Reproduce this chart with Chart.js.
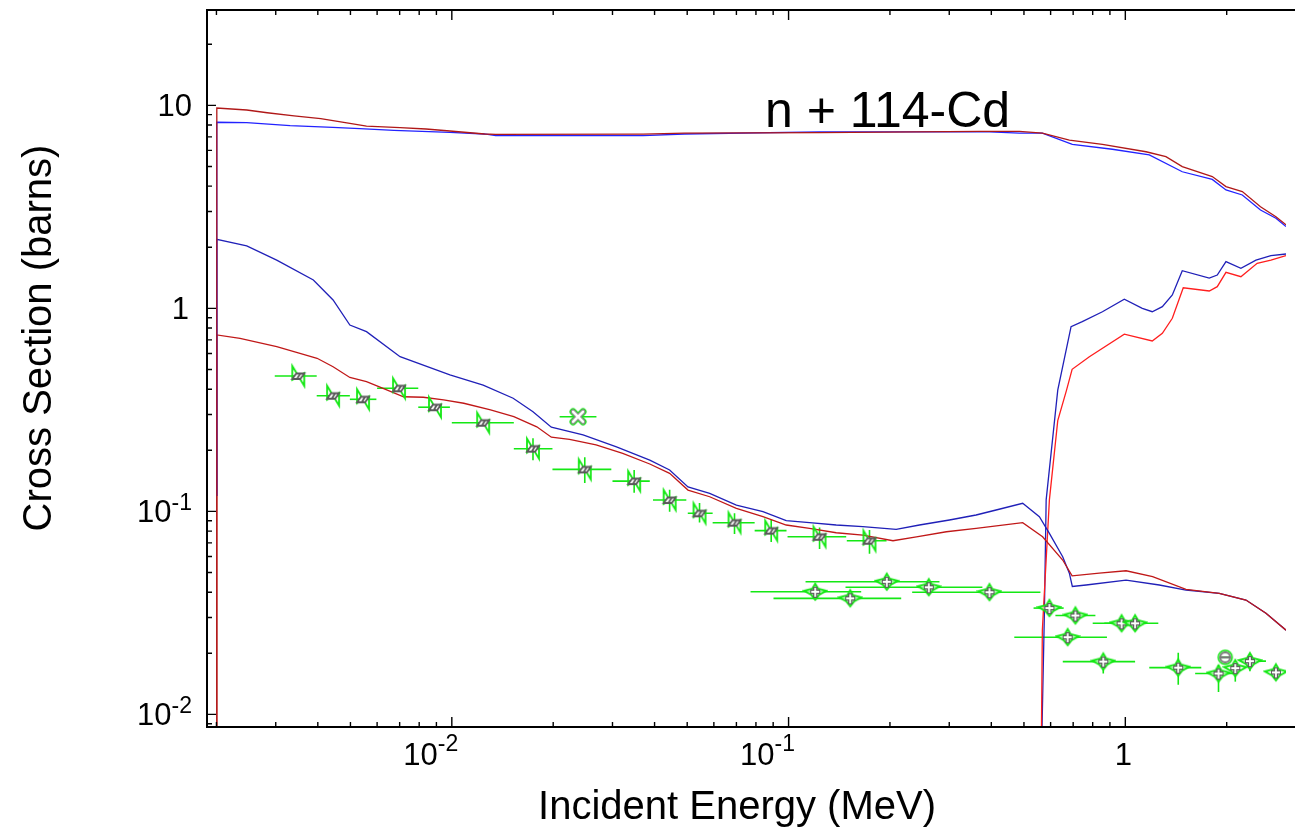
<!DOCTYPE html>
<html><head><meta charset="utf-8">
<script src="https://cdn.jsdelivr.net/npm/chart.js@4/dist/chart.umd.min.js"></script>
<style>html,body{margin:0;padding:0;background:#fff;overflow:hidden}</style>
</head><body>
<canvas id="c" width="1295" height="829"></canvas>
<script>
// ---------- evaluated curves [E (MeV), sigma (b)] ----------
const totalRed = [[0.002,0.005],[0.002005,9.7],[0.00246,9.49],[0.00283,9.2],[0.0034,8.87],[0.00408,8.6],[0.00498,8.16],[0.00558,7.91],[0.00702,7.77],[0.00838,7.65],[0.00987,7.48],[0.0125,7.23],[0.0135,7.2],[0.037,7.22],[0.049,7.3],[0.1236,7.35],[0.369,7.45],[0.485,7.45],[0.567,7.3],[0.682,6.75],[0.855,6.43],[1.152,5.91],[1.32,5.59],[1.476,4.99],[1.812,4.46],[1.99,3.98],[2.225,3.76],[2.52,3.17],[2.8,2.83],[3.0,2.58]];
const totalBlue = [[0.002,0.12],[0.002005,8.26],[0.00246,8.22],[0.00331,7.94],[0.00443,7.8],[0.00533,7.68],[0.00673,7.54],[0.00987,7.37],[0.0125,7.23],[0.0135,7.1],[0.037,7.1],[0.049,7.23],[0.1236,7.4],[0.395,7.4],[0.485,7.3],[0.567,7.3],[0.696,6.43],[0.915,6.08],[1.178,5.7],[1.476,4.71],[1.812,4.32],[1.99,3.83],[2.225,3.62],[2.52,3.05],[2.8,2.78],[3.0,2.53]];
const captureRed = [[0.002,0.005],[0.002005,0.74],[0.00235,0.712],[0.00302,0.648],[0.00354,0.601],[0.00398,0.568],[0.00444,0.516],[0.00498,0.457],[0.00558,0.436],[0.00625,0.404],[0.00719,0.367],[0.00823,0.365],[0.00945,0.354],[0.01085,0.341],[0.01303,0.316],[0.01528,0.293],[0.01788,0.261],[0.01975,0.232],[0.02236,0.2266],[0.02681,0.2124],[0.03217,0.1933],[0.03871,0.1712],[0.04434,0.154],[0.05027,0.1274],[0.05831,0.1181],[0.06998,0.1036],[0.08393,0.0942],[0.0984,0.0857],[0.1154,0.0825],[0.1385,0.0785],[0.1661,0.0765],[0.2042,0.0717],[0.2397,0.075],[0.2942,0.0794],[0.3605,0.0825],[0.4957,0.088],[0.568,0.075],[0.6516,0.0576],[0.695,0.0481],[0.837,0.0496],[1.005,0.051],[1.205,0.0477],[1.514,0.0413],[1.901,0.0395],[2.281,0.0366],[2.616,0.0315],[3.0,0.026]];
const captureBlue = [[0.002,0.12],[0.002005,2.19],[0.00246,2.03],[0.00302,1.73],[0.00388,1.38],[0.00444,1.1],[0.00498,0.828],[0.00558,0.768],[0.00702,0.578],[0.00987,0.47],[0.01239,0.419],[0.01521,0.361],[0.01742,0.31],[0.01975,0.26],[0.02453,0.238],[0.03083,0.208],[0.03871,0.179],[0.04434,0.16],[0.05027,0.132],[0.05831,0.1228],[0.06998,0.1075],[0.08393,0.0997],[0.0984,0.09],[0.1154,0.088],[0.1385,0.0857],[0.1661,0.0841],[0.2087,0.0816],[0.2447,0.0857],[0.3004,0.0907],[0.3605,0.096],[0.4133,0.1016],[0.4957,0.1096],[0.5556,0.0942],[0.595,0.078],[0.6516,0.0598],[0.682,0.0496],[0.696,0.0427],[0.7646,0.0434],[1.005,0.0459],[1.262,0.0434],[1.514,0.041],[1.901,0.0395],[2.281,0.0366],[2.616,0.0315],[3.0,0.026]];
const inelasticBlue = [[0.562,0.005],[0.575,0.0316],[0.582,0.114],[0.63,0.396],[0.69,0.813],[0.745,0.86],[0.855,0.963],[0.993,1.109],[1.123,1.001],[1.202,0.963],[1.288,1.02],[1.379,1.164],[1.476,1.534],[1.775,1.41],[1.875,1.46],[1.99,1.7],[2.204,1.576],[2.443,1.73],[2.706,1.818],[3.0,1.853]];
const inelasticRed = [[0.562,0.005],[0.567,0.026],[0.595,0.114],[0.63,0.28],[0.669,0.396],[0.695,0.501],[0.782,0.578],[0.993,0.746],[1.202,0.691],[1.288,0.754],[1.379,0.894],[1.486,1.264],[1.775,1.218],[1.875,1.279],[1.99,1.506],[2.204,1.432],[2.463,1.668],[2.706,1.73],[3.0,1.818]];

// ---------- experimental data ----------
const expA_E   = [0.0035,0.00444,0.00545,0.00697,0.00891,0.01239,0.01742,0.02482,0.03479,0.04434,0.0544,0.0691,0.0888,0.1236,0.1739];
const expA_S   = [0.4645,0.3715,0.3566,0.404,0.326,0.2735,0.2037,0.161,0.141,0.1138,0.0979,0.088,0.0804,0.075,0.0717];
const expA_Elo = [0.00298,0.00397,0.00498,0.006,0.00795,0.01,0.01528,0.0199,0.03,0.03957,0.0502,0.0595,0.0793,0.0993,0.1489];
const expA_Ehi = [0.00397,0.00498,0.00597,0.00795,0.00987,0.01528,0.0199,0.02976,0.03871,0.0497,0.0595,0.0793,0.0986,0.1483,0.1954];
const expA_Slo = [null,null,null,null,null,null,0.1786,0.138,0.1235,0.0997,0.0883,0.0773,0.0707,0.0652,0.0618];
const expA_Shi = [null,null,null,null,null,null,0.229,0.185,0.16,0.1278,0.1099,0.0979,0.0906,0.0834,0.0809];

const expB_E = [0.0237], expB_S = [0.2927], expB_Elo = [0.0209], expB_Ehi = [0.02688], expB_Slo = [null], expB_Shi = [null];

const expC_E   = [0.12,0.1524,0.1957,0.2608,0.395,0.595,0.7107,0.6742,0.975,1.069,0.86,1.436,1.891,2.121,2.344,2.8];
const expC_S   = [0.0402,0.0373,0.045,0.0423,0.04,0.0334,0.0307,0.024,0.0281,0.0281,0.0182,0.017,0.0159,0.0169,0.0183,0.0161];
const expC_Elo = [0.0771,0.0902,0.1123,0.1476,0.2328,0.534,0.62,0.468,0.8,0.866,0.652,1.178,1.612,null,2.204,null];
const expC_Ehi = [0.1643,0.216,0.2806,0.3763,0.5596,0.656,0.815,0.882,1.1,1.253,1.069,1.681,2.107,null,2.616,null];
const expC_Slo = [null,null,null,null,null,null,null,null,null,null,0.0159,0.014,0.0129,0.0145,0.0163,null];
const expC_Shi = [null,null,null,null,null,null,null,null,null,null,0.0192,0.0201,0.0175,0.0179,0.0197,null];

const expD_E = [1.98], expD_S = [0.0191], expD_Elo = [1.93], expD_Ehi = [2.04], expD_Slo = [null], expD_Shi = [null];

// ---------- ticks & texts ----------
const xMajor = [0.01, 0.1, 1];
const xBase = ['10', '10', '1'];
const xExp  = ['-2', '-1', ''];
const yMajor = [0.01, 0.1, 1, 10];
const yBase = ['10', '10', '1', '10'];
const yExp  = ['-2', '-1', '', ''];
const titleText = 'n + 114-Cd';
const xTitle = 'Incident Energy (MeV)';
const yTitle = 'Cross Section (barns)';

const FONT = '"Liberation Sans", Arial, Helvetica, sans-serif';
const GREEN = '#14e814';

// ---------- marker images ----------
function mk(w, h, draw) {
  const c = document.createElement('canvas'); c.width = w; c.height = h;
  const g = c.getContext('2d'); g.translate(w/2, h/2); g.lineJoin = 'miter'; draw(g); return c;
}
const triMarker = mk(20, 28, g => {
  g.strokeStyle = GREEN; g.lineWidth = 1.8;
  g.beginPath(); g.moveTo(-6,-10); g.lineTo(6,10); g.lineTo(6,-3); g.lineTo(-6,4); g.closePath(); g.stroke();
  g.fillStyle = '#fff'; g.strokeStyle = '#5a5a5a'; g.lineWidth = 1.8;
  g.beginPath(); g.moveTo(-6,3); g.lineTo(-2,-2.5); g.lineTo(6,-2.5); g.lineTo(2,3); g.closePath(); g.fill(); g.stroke();
  g.beginPath(); g.moveTo(-1,2.5); g.lineTo(2,-2.5); g.stroke();
});
const xMarker = mk(20, 20, g => {
  g.lineCap = 'round';
  g.strokeStyle = GREEN; g.lineWidth = 7;
  g.beginPath(); g.moveTo(-5,-5); g.lineTo(5,5); g.moveTo(5,-5); g.lineTo(-5,5); g.stroke();
  g.strokeStyle = '#888'; g.lineWidth = 5;
  g.beginPath(); g.moveTo(-5,-5); g.lineTo(5,5); g.moveTo(5,-5); g.lineTo(-5,5); g.stroke();
  g.strokeStyle = '#fff'; g.lineWidth = 2.5;
  g.beginPath(); g.moveTo(-5,-5); g.lineTo(5,5); g.moveTo(5,-5); g.lineTo(-5,5); g.stroke();
});
const starMarker = mk(26, 22, g => {
  g.strokeStyle = GREEN; g.lineWidth = 2; g.fillStyle = 'rgba(255,255,255,0.6)';
  g.beginPath(); g.moveTo(0,-8); g.lineTo(3,-3); g.lineTo(11,-1); g.lineTo(4,3); g.lineTo(0,8);
  g.lineTo(-4,3); g.lineTo(-11,-1); g.lineTo(-3,-3); g.closePath(); g.fill(); g.stroke();
  g.strokeStyle = '#5a5a5a'; g.lineWidth = 4.4;
  g.beginPath(); g.moveTo(-5,0); g.lineTo(5,0); g.moveTo(0,-5); g.lineTo(0,6); g.stroke();
  g.strokeStyle = '#fff'; g.lineWidth = 1.8;
  g.beginPath(); g.moveTo(-4,0); g.lineTo(4,0); g.moveTo(0,-4); g.lineTo(0,5); g.stroke();
});
const circMarker = mk(18, 18, g => {
  g.strokeStyle = GREEN; g.lineWidth = 1.5;
  g.beginPath(); g.arc(0,0,7,0,Math.PI*2); g.stroke();
  g.strokeStyle = '#777'; g.lineWidth = 2;
  g.beginPath(); g.arc(0,0,5,0,Math.PI*2); g.stroke();
  g.beginPath(); g.moveTo(-5,0); g.lineTo(5,0); g.stroke();
});

// ---------- build datasets ----------
const pts = arr => arr.map(p => ({x: p[0], y: p[1]}));
const curve = (arr, color) => ({data: pts(arr), showLine: true, borderColor: color, borderWidth: 1.3,
  pointRadius: 0, tension: 0, fill: false, order: 2});
const expSet = (E, S, Elo, Ehi, Slo, Shi, marker) => ({
  data: E.map((e, i) => ({x: e, y: S[i]})), showLine: false, pointStyle: marker, pointRadius: 8,
  errBars: {Elo, Ehi, Slo, Shi}, order: 1
});

const errorBarPlugin = {
  id: 'errbars',
  beforeDatasetsDraw(chart) {
    const {ctx, scales: {x, y}, chartArea: a} = chart;
    ctx.save();
    ctx.beginPath(); ctx.rect(a.left, a.top, a.right - a.left, a.bottom - a.top); ctx.clip();
    ctx.strokeStyle = GREEN; ctx.lineWidth = 1.6;
    chart.data.datasets.forEach(ds => {
      if (!ds.errBars) return;
      const eb = ds.errBars;
      ds.data.forEach((p, i) => {
        const px = x.getPixelForValue(p.x), py = y.getPixelForValue(p.y);
        ctx.beginPath();
        if (eb.Elo[i] != null) { ctx.moveTo(x.getPixelForValue(eb.Elo[i]), py); ctx.lineTo(x.getPixelForValue(eb.Ehi[i]), py); }
        if (eb.Slo[i] != null) { ctx.moveTo(px, y.getPixelForValue(eb.Slo[i])); ctx.lineTo(px, y.getPixelForValue(eb.Shi[i])); }
        ctx.stroke();
      });
    });
    ctx.restore();
  }
};

function minorList(min, max) {
  const out = [];
  for (let d = Math.floor(Math.log10(min)); d <= Math.ceil(Math.log10(max)); d++)
    for (let k = 2; k <= 9; k++) { const v = k * Math.pow(10, d); if (v > min && v < max) out.push(v); }
  return out;
}

const axesPlugin = {
  id: 'axesDeco',
  afterDraw(chart) {
    const {ctx, scales: {x, y}, chartArea: a, width} = chart;
    ctx.save();
    ctx.strokeStyle = '#000'; ctx.lineWidth = 2;
    ctx.beginPath();
    ctx.moveTo(width, a.top); ctx.lineTo(a.left, a.top); ctx.lineTo(a.left, a.bottom); ctx.lineTo(width, a.bottom);
    ctx.stroke();
    ctx.lineWidth = 1.4;
    ctx.beginPath();
    xMajor.forEach(v => { const px = x.getPixelForValue(v);
      ctx.moveTo(px, a.bottom); ctx.lineTo(px, a.bottom - 10); ctx.moveTo(px, a.top); ctx.lineTo(px, a.top + 10); });
    minorList(x.min, x.max).forEach(v => { const px = x.getPixelForValue(v);
      ctx.moveTo(px, a.bottom); ctx.lineTo(px, a.bottom - 5); ctx.moveTo(px, a.top); ctx.lineTo(px, a.top + 5); });
    yMajor.forEach(v => { const py = y.getPixelForValue(v);
      ctx.moveTo(a.left, py); ctx.lineTo(a.left + 9, py); });
    minorList(y.min, y.max).forEach(v => { const py = y.getPixelForValue(v);
      ctx.moveTo(a.left, py); ctx.lineTo(a.left + 5, py); });
    ctx.stroke();

    ctx.fillStyle = '#000'; ctx.textBaseline = 'alphabetic';
    const base = '31px ' + FONT, sup = '23px ' + FONT;
    // x tick labels
    xMajor.forEach((v, i) => {
      const px = x.getPixelForValue(v);
      ctx.font = base;
      const bw = ctx.measureText(xBase[i]).width;
      if (xExp[i]) {
        const left = px - 14 - bw;
        ctx.textAlign = 'left'; ctx.fillText(xBase[i], left, a.bottom + 38);
        ctx.font = sup; ctx.fillText(xExp[i], left + bw, a.bottom + 24);
      } else {
        ctx.textAlign = 'center'; ctx.fillText(xBase[i], px - 2, a.bottom + 38);
      }
    });
    // y tick labels
    yMajor.forEach((v, i) => {
      const py = y.getPixelForValue(v);
      const right = a.left - 15;
      ctx.textAlign = 'left';
      if (yExp[i]) {
        ctx.font = sup; const ew = ctx.measureText(yExp[i]).width;
        ctx.font = base; const bw = ctx.measureText(yBase[i]).width;
        ctx.fillText(yBase[i], right - ew - bw, py + 11);
        ctx.font = sup; ctx.fillText(yExp[i], right - ew, py - 1);
      } else {
        ctx.font = base; const bw = ctx.measureText(yBase[i]).width;
        ctx.fillText(yBase[i], (yBase[i] === '1' ? right - 3 : right) - bw, py + 11);
      }
    });
    // titles
    ctx.font = '40px ' + FONT; ctx.textAlign = 'center';
    ctx.fillText(xTitle, 737, 819);
    ctx.save(); ctx.translate(51, 338); ctx.rotate(-Math.PI / 2); ctx.fillText(yTitle, 0, 0); ctx.restore();
    ctx.font = '50px ' + FONT; ctx.textAlign = 'left';
    ctx.fillText(titleText, 765, 127);
    ctx.restore();
  }
};

new Chart(document.getElementById('c'), {
  type: 'scatter',
  data: { datasets: [
    curve(totalRed, '#b01818'),
    curve(totalBlue, '#2222ff'),
    curve(captureRed, '#c01818'),
    curve(captureBlue, '#2020b8'),
    curve(inelasticRed, '#ff1e1e'),
    curve(inelasticBlue, '#2020b8'),
    expSet(expA_E, expA_S, expA_Elo, expA_Ehi, expA_Slo, expA_Shi, triMarker),
    expSet(expB_E, expB_S, expB_Elo, expB_Ehi, expB_Slo, expB_Shi, xMarker),
    expSet(expC_E, expC_S, expC_Elo, expC_Ehi, expC_Slo, expC_Shi, starMarker),
    expSet(expD_E, expD_S, expD_Elo, expD_Ehi, expD_Slo, expD_Shi, circMarker)
  ]},
  options: {
    responsive: false, animation: false, devicePixelRatio: 1,
    layout: { padding: { left: 207, right: 8, top: 10, bottom: 102 } },
    scales: {
      x: { type: 'logarithmic', min: 0.001875, max: 3.0, display: false },
      y: { type: 'logarithmic', min: 0.00867, max: 29.5, display: false }
    },
    plugins: { legend: { display: false }, tooltip: { enabled: false } },
    events: []
  },
  plugins: [errorBarPlugin, axesPlugin]
});
</script>
</body></html>
